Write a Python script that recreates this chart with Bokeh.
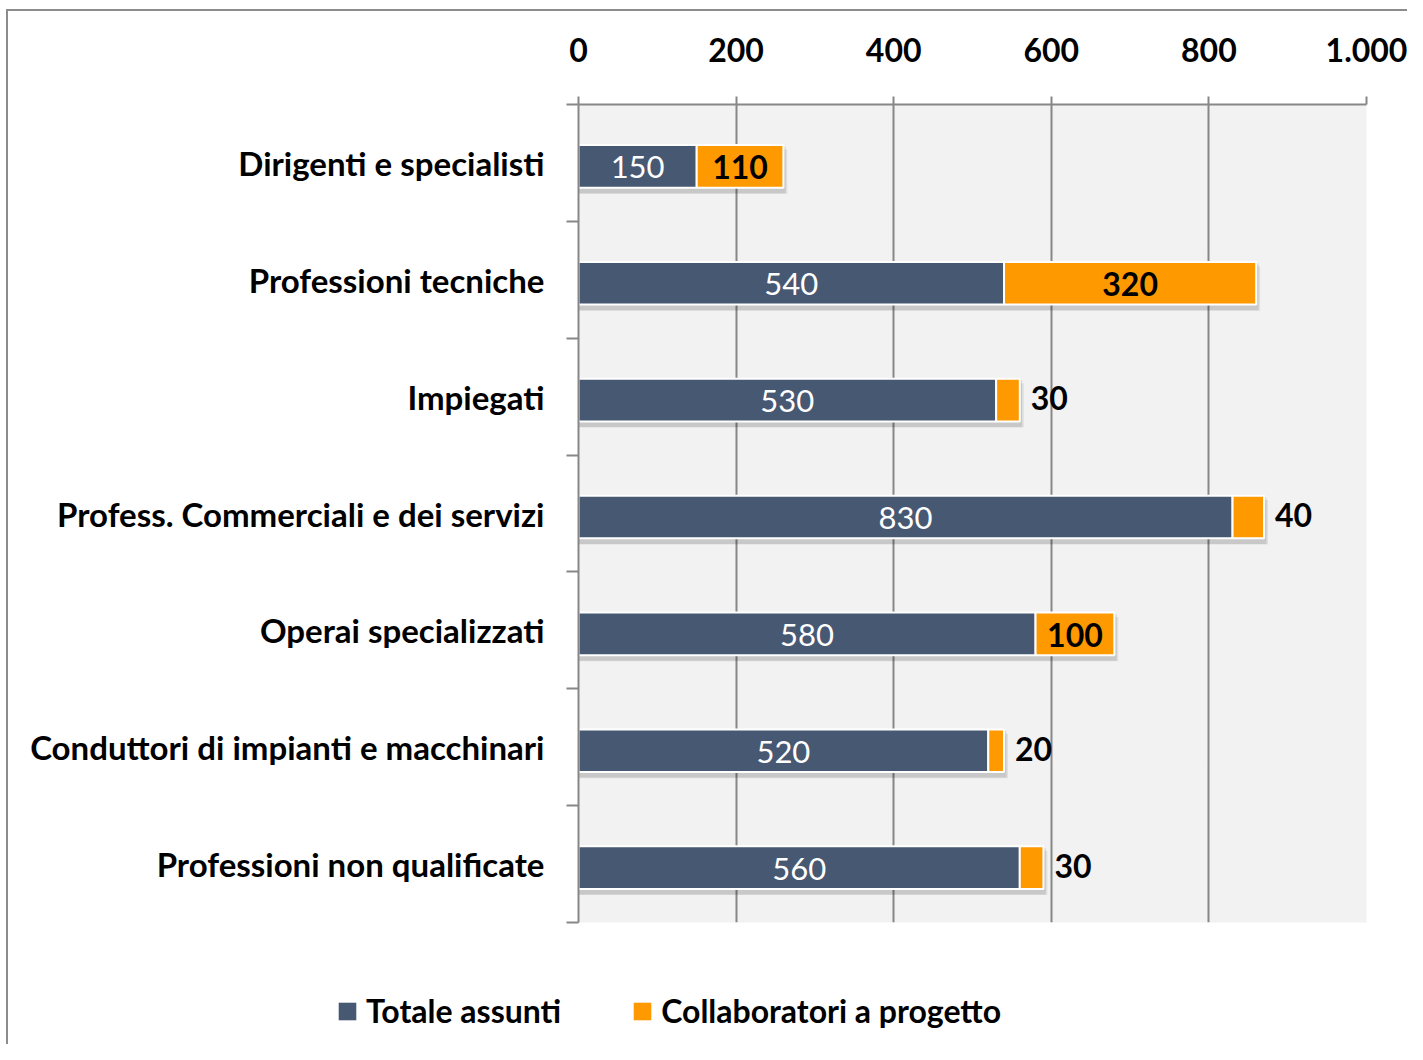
from bokeh.plotting import figure
from bokeh.layouts import column
from bokeh.models import (Range1d, FixedTicker, CustomJSTickFormatter, ColumnDataSource,
                          Legend, LegendItem)
from bokeh.core.properties import value
from bokeh.embed import file_html
from bokeh.resources import INLINE

categories = [
    "Dirigenti e specialisti",
    "Professioni tecniche",
    "Impiegati",
    "Profess. Commerciali e dei servizi",
    "Operai specializzati",
    "Conduttori di impianti e macchinari",
    "Professioni non qualificate",
]
totale_assunti = [150, 540, 530, 830, 580, 520, 560]
collaboratori = [110, 320, 30, 40, 100, 20, 30]
x_ticks = [0, 200, 400, 600, 800, 1000]
x_tick_labels = ["0", "200", "400", "600", "800", "1.000"]
series_names = ["Totale assunti", "Collaboratori a progetto"]

NAVY = "#475873"
ORANGE = "#ff9900"
GRID = "#878787"
FONT = "Lato"
W = 1407

n = len(categories)
ypos = [i + 0.5 for i in range(n)]
ybar = [y + 0.03 for y in ypos]
ends = [a + b for a, b in zip(totale_assunti, collaboratori)]

src = ColumnDataSource(dict(
    y=ybar, tot=totale_assunti, col=collaboratori, end=ends,
    tot_mid=[t / 2 for t in totale_assunti],
    tot_lbl=[str(v) for v in totale_assunti],
    zero=[0] * n,
))

p = figure(width=W, height=926, x_range=Range1d(0, 1000), y_range=Range1d(n, 0),
           x_axis_location="above", output_backend="svg", toolbar_location=None,
           min_border_left=578, min_border_top=104, min_border_right=41, min_border_bottom=4)
p.background_fill_color = "#f2f2f2"
p.border_fill_color = None
p.outline_line_color = None

# grid
p.xgrid.ticker = FixedTicker(ticks=x_ticks)
p.xgrid.grid_line_color = GRID
p.xgrid.grid_line_width = 2
p.ygrid.grid_line_color = None

# soft shadows
for dy, dx, a, hh in [(0.03, 3, 0.10, 0.40), (0.045, 5, 0.08, 0.38)]:
    p.hbar(y=[y + dy for y in ybar], left=[0] * n, right=[e + dx for e in ends], height=hh,
           fill_color="black", fill_alpha=a, line_color=None)

r1 = p.hbar(y="y", left="zero", right="tot", height=0.365, source=src,
            fill_color=NAVY, line_color="white", line_width=2)
r2 = p.hbar(y="y", left="tot", right="end", height=0.365, source=src,
            fill_color=ORANGE, line_color="white", line_width=2)

# value labels
p.text(x="tot_mid", y="y", text="tot_lbl", source=src, text_color="white",
       text_font=value(FONT), text_font_size="31px", text_align="center",
       text_baseline="middle", y_offset=1)

big = [i for i in range(n) if collaboratori[i] >= 100]
small = [i for i in range(n) if collaboratori[i] < 100]
p.text(x=[totale_assunti[i] + collaboratori[i] / 2 for i in big], y=[ybar[i] for i in big],
       text=[str(collaboratori[i]) for i in big], text_color="black",
       text_font=value(FONT), text_font_size="32px", text_font_style="bold",
       text_align="center", text_baseline="middle", y_offset=1)
p.text(x=[ends[i] for i in small], y=[ybar[i] for i in small],
       text=[str(collaboratori[i]) for i in small], text_color="black",
       text_font=value(FONT), text_font_size="32px", text_font_style="bold",
       text_align="left", text_baseline="middle", x_offset=11, y_offset=-2)

# x axis (top)
xa = p.xaxis[0]
xa.ticker = FixedTicker(ticks=x_ticks)
xa.major_label_overrides = {t: l for t, l in zip(x_ticks, x_tick_labels)}
xa.major_label_text_font = FONT
xa.major_label_text_font_size = "32px"
xa.major_label_text_font_style = "bold"
xa.major_label_text_color = "black"
xa.major_label_standoff = 35
xa.axis_line_color = GRID
xa.axis_line_width = 2
xa.major_tick_line_color = GRID
xa.major_tick_line_width = 2
xa.major_tick_out = 8
xa.major_tick_in = 0
xa.minor_tick_line_color = None

# y axis
ya = p.yaxis[0]
ya.ticker = FixedTicker(ticks=ypos, minor_ticks=list(range(n + 1)))
ya.formatter = CustomJSTickFormatter(args=dict(names=categories),
                                     code="return names[Math.floor(tick)] || '';")
ya.major_label_text_font = FONT
ya.major_label_text_font_size = "33px"
ya.major_label_text_font_style = "bold"
ya.major_label_text_color = "black"
ya.major_label_standoff = 22
ya.axis_line_color = GRID
ya.axis_line_width = 2
ya.major_tick_line_color = None
ya.minor_tick_line_color = GRID
ya.minor_tick_line_width = 2
ya.minor_tick_out = 12
ya.minor_tick_in = 0

# legend strip below the chart
p2 = figure(width=W, height=1044 - 926, x_range=Range1d(0, 1), y_range=Range1d(0, 1),
            output_backend="svg", toolbar_location=None,
            min_border_left=0, min_border_right=0, min_border_top=0, min_border_bottom=0)
try:
    p.frame_align = False
    p2.frame_align = False
except Exception:
    pass
p2.axis.visible = False
p2.grid.visible = False
p2.outline_line_color = None
p2.background_fill_color = None
p2.border_fill_color = None
l1 = p2.hbar(y=[-50], left=[-50], right=[-49], height=1, fill_color=NAVY, line_color=None)
l2 = p2.hbar(y=[-50], left=[-50], right=[-49], height=1, fill_color=ORANGE, line_color=None)
legend = Legend(items=[LegendItem(label=series_names[0], renderers=[l1]),
                       LegendItem(label=series_names[1], renderers=[l2])],
                orientation="horizontal", location=(336, 14),
                padding=0, margin=0, spacing=70, label_standoff=8,
                glyph_width=22, glyph_height=22, label_height=18,
                label_text_font=FONT, label_text_font_size="32px",
                label_text_font_style="bold", label_text_color="black",
                background_fill_alpha=0, border_line_color=None)
p2.add_layout(legend, "center")

lay = column(p, p2, spacing=0, styles={
    "background": "linear-gradient(#8c8c8c,#8c8c8c) 6px 9px / calc(100% - 6px) 2px no-repeat, "
                  "linear-gradient(#8c8c8c,#8c8c8c) 6px 9px / 2px calc(100% - 9px) no-repeat, #ffffff"})

open("out.html", "w").write(file_html(lay, INLINE))
